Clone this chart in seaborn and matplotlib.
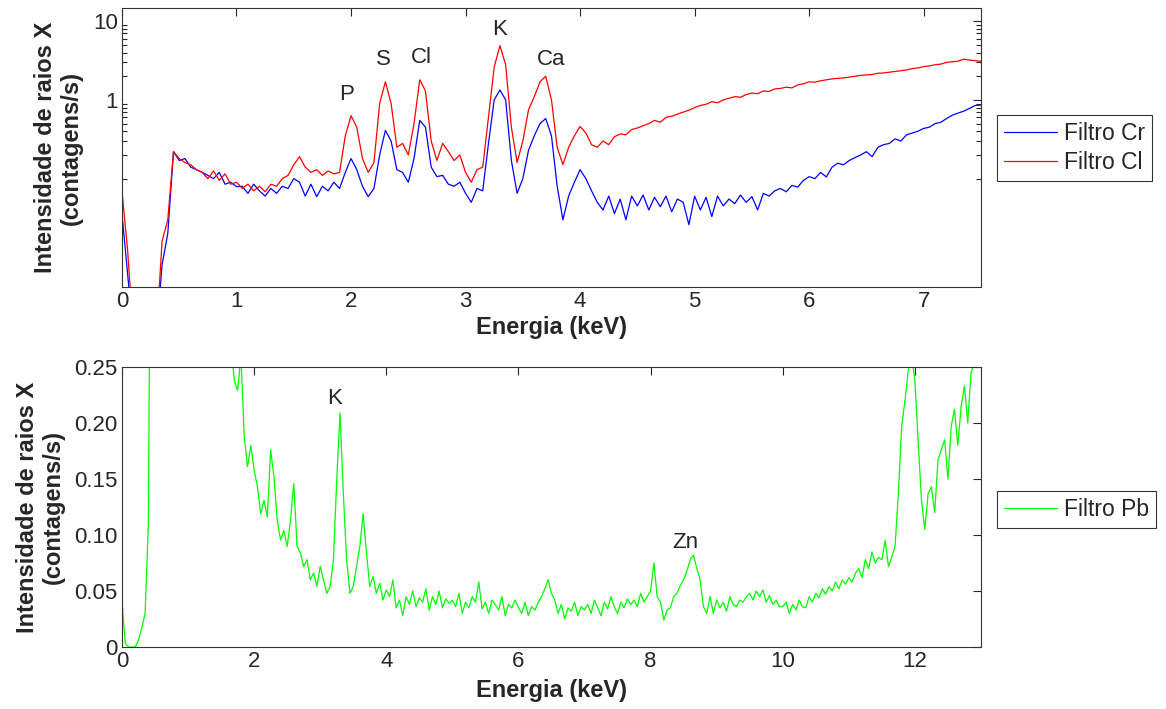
import numpy as np
import pandas as pd
import matplotlib
matplotlib.use('Agg')
import matplotlib.pyplot as plt
import seaborn as sns

# Energias (keV)
energia_top = np.round(np.arange(0, 7.5001, 0.05), 2)
energia_pb = np.round(np.arange(0, 13.0001, 0.05), 2)

# Filtro Cr (azul), de 0.5 em 0.5 keV por linha
filtro_cr = [
    0.036, 0.006, 0.001, 0.001, 0.001, 0.001, 0.001, 0.008, 0.02, 0.22,
    0.17, 0.18, 0.14, 0.13, 0.12, 0.11, 0.1, 0.12, 0.085, 0.09,
    0.079, 0.08, 0.065, 0.085, 0.07, 0.06, 0.075, 0.065, 0.08, 0.075,
    0.1, 0.09, 0.06, 0.085, 0.059, 0.08, 0.07, 0.09, 0.075, 0.12,
    0.18, 0.13, 0.08, 0.059, 0.075, 0.2, 0.41, 0.3, 0.13, 0.12,
    0.09, 0.18, 0.55, 0.45, 0.14, 0.106, 0.11, 0.085, 0.08, 0.09,
    0.065, 0.05, 0.075, 0.07, 0.28, 1.0, 1.34, 1.0, 0.17, 0.065,
    0.1, 0.23, 0.35, 0.5, 0.58, 0.35, 0.08, 0.03, 0.06, 0.09,
    0.13, 0.1, 0.07, 0.05, 0.04, 0.06, 0.036, 0.055, 0.03, 0.06,
    0.045, 0.062, 0.04, 0.058, 0.044, 0.06, 0.038, 0.055, 0.05, 0.026,
    0.06, 0.04, 0.058, 0.033, 0.06, 0.045, 0.055, 0.048, 0.062, 0.05,
    0.059, 0.04, 0.065, 0.06, 0.07, 0.075, 0.068, 0.082, 0.078, 0.095,
    0.106, 0.1, 0.12, 0.105, 0.14, 0.157, 0.15, 0.17, 0.185, 0.2,
    0.22, 0.19, 0.25, 0.27, 0.28, 0.32, 0.3, 0.36, 0.38, 0.4,
    0.435, 0.45, 0.5, 0.52, 0.58, 0.64, 0.68, 0.72, 0.78, 0.85,
    0.86,
]

# Filtro Cl (vermelho)
filtro_cl = [
    0.07, 0.012, 0.001, 0.001, 0.001, 0.001, 0.001, 0.016, 0.03, 0.22,
    0.18, 0.16, 0.15, 0.13, 0.12, 0.10, 0.125, 0.095, 0.115, 0.085,
    0.09, 0.075, 0.085, 0.07, 0.08, 0.068, 0.085, 0.08, 0.10, 0.11,
    0.15, 0.19, 0.14, 0.12, 0.13, 0.11, 0.125, 0.115, 0.12, 0.35,
    0.63, 0.45, 0.18, 0.12, 0.16, 0.9, 1.7, 0.9, 0.25, 0.28,
    0.2, 0.5, 1.8, 1.3, 0.3, 0.17, 0.28, 0.22, 0.17, 0.2,
    0.12, 0.09, 0.13, 0.14, 0.6, 2.6, 4.9, 2.8, 0.45, 0.16,
    0.3, 0.75, 1.1, 1.7, 2.0, 1.0, 0.25, 0.15, 0.25, 0.35,
    0.46, 0.38, 0.27, 0.25, 0.3, 0.27, 0.34, 0.37, 0.36, 0.42,
    0.44, 0.47, 0.5, 0.55, 0.52, 0.6, 0.62, 0.66, 0.7, 0.74,
    0.8, 0.85, 0.88, 0.95, 0.92, 1.0, 1.05, 1.1, 1.08, 1.17,
    1.22, 1.2, 1.3, 1.28, 1.38, 1.4, 1.45, 1.42, 1.55, 1.6,
    1.7, 1.68, 1.75, 1.8, 1.85, 1.88, 1.9, 1.95, 2.0, 2.05,
    2.08, 2.1, 2.18, 2.2, 2.25, 2.3, 2.35, 2.4, 2.5, 2.55,
    2.65, 2.7, 2.8, 2.85, 3.0, 3.05, 3.1, 3.3, 3.2, 3.15,
    3.1,
]

# Filtro Pb (verde), 1 keV por linha
filtro_pb = [
    0.042, 0.003, 0.0, 0.0, 0.0, 0.006, 0.017, 0.03, 0.11, 0.6, 0.6, 0.6, 0.6, 0.6, 0.6, 0.6, 0.6, 0.6, 0.6, 0.6,
    0.6, 0.6, 0.6, 0.6, 0.6, 0.6, 0.6, 0.6, 0.6, 0.6, 0.6, 0.6, 0.6, 0.27, 0.238, 0.229, 0.26, 0.188, 0.161, 0.18,
    0.158, 0.143, 0.119, 0.131, 0.116, 0.176, 0.152, 0.113, 0.0955, 0.104, 0.0896, 0.113, 0.146, 0.09, 0.084, 0.072, 0.078, 0.06, 0.066, 0.054,
    0.072, 0.06, 0.048, 0.054, 0.078, 0.149, 0.209, 0.137, 0.078, 0.048, 0.054, 0.072, 0.09, 0.119, 0.084, 0.054, 0.063, 0.048, 0.057, 0.042,
    0.051, 0.045, 0.06, 0.035, 0.042, 0.028, 0.045, 0.038, 0.05, 0.036, 0.044, 0.04, 0.052, 0.033, 0.045, 0.038, 0.05, 0.035, 0.043, 0.039,
    0.042, 0.036, 0.048, 0.03, 0.04, 0.035, 0.045, 0.04, 0.058, 0.034, 0.04, 0.03, 0.042, 0.038, 0.033, 0.045, 0.028, 0.038, 0.035, 0.042,
    0.035, 0.03, 0.04, 0.028, 0.036, 0.033, 0.04, 0.045, 0.052, 0.06, 0.048, 0.042, 0.03, 0.038, 0.025, 0.035, 0.032, 0.04, 0.028, 0.036,
    0.033, 0.038, 0.03, 0.042, 0.035, 0.028, 0.04, 0.034, 0.045, 0.036, 0.03, 0.04, 0.035, 0.043, 0.038, 0.042, 0.036, 0.048, 0.04, 0.045,
    0.05, 0.075, 0.045, 0.04, 0.024, 0.033, 0.035, 0.045, 0.048, 0.055, 0.06, 0.068, 0.078, 0.082, 0.07, 0.06, 0.036, 0.03, 0.045, 0.03,
    0.042, 0.035, 0.04, 0.032, 0.045, 0.038, 0.036, 0.042, 0.04, 0.045, 0.048, 0.042, 0.05, 0.045, 0.051, 0.04, 0.046, 0.038, 0.042, 0.036,
    0.036, 0.04, 0.03, 0.038, 0.033, 0.042, 0.036, 0.035, 0.045, 0.04, 0.048, 0.044, 0.052, 0.047, 0.054, 0.05, 0.058, 0.052, 0.06, 0.056,
    0.062, 0.058, 0.066, 0.07, 0.062, 0.078, 0.07, 0.085, 0.075, 0.08, 0.078, 0.095, 0.072, 0.08, 0.09, 0.137, 0.197, 0.22, 0.247, 0.26,
    0.238, 0.183, 0.131, 0.105, 0.137, 0.143, 0.12, 0.167, 0.176, 0.185, 0.15, 0.197, 0.212, 0.18, 0.215, 0.233, 0.2, 0.245, 0.254, 0.27,
    0.28,
]

# Rótulos dos picos
picos_top = ['P', 'S', 'Cl', 'K', 'Ca']
picos_top_x = [1.96, 2.28, 2.61, 3.30, 3.75]
picos_top_y = [1.16, 3.26, 3.45, 7.9, 3.26]
picos_pb = ['K', 'Zn']
picos_pb_x = [3.21, 8.53]
picos_pb_y = [0.222, 0.093]

sns.set_style('white')
plt.rcParams['font.family'] = ['Liberation Sans', 'DejaVu Sans']
plt.rcParams['axes.linewidth'] = 0.8
plt.rcParams['axes.edgecolor'] = 'black'

df_top = pd.DataFrame({'energia': energia_top, 'Filtro Cr': filtro_cr, 'Filtro Cl': filtro_cl})
df_pb = pd.DataFrame({'energia': energia_pb, 'Filtro Pb': filtro_pb})

fig = plt.figure(figsize=(11.66, 7.09), dpi=100)
ax1 = fig.add_axes([0.1046, 0.5952, 0.7367, 0.3935])
ax2 = fig.add_axes([0.1046, 0.0874, 0.7367, 0.395])

sns.lineplot(data=df_top, x='energia', y='Filtro Cr', color='#0000ff', lw=0.9,
             estimator=None, sort=False, label='Filtro Cr', ax=ax1)
sns.lineplot(data=df_top, x='energia', y='Filtro Cl', color='#ff0000', lw=0.9,
             estimator=None, sort=False, label='Filtro Cl', ax=ax1)
ax1.set_yscale('log')
ax1.set_xlim(0, 7.5)
ax1.set_ylim(0.0042, 14.7)
ax1.set_xticks(range(0, 8))
ax1.set_yticks([1, 10])
ax1.set_yticklabels(['1', '10'])
ax1.set_yticks([0.1, 0.2, 0.3, 0.4, 0.5, 0.6, 0.7, 0.8, 0.9, 2, 3, 4, 5, 6, 7, 8, 9], minor=True)
ax1.yaxis.set_minor_formatter(matplotlib.ticker.NullFormatter())
for t, x, y in zip(picos_top, picos_top_x, picos_top_y):
    ax1.text(x, y, t, ha='center', va='center', fontsize=16)

sns.lineplot(data=df_pb, x='energia', y='Filtro Pb', color='#00ff00', lw=0.9,
             estimator=None, sort=False, label='Filtro Pb', ax=ax2)
ax2.set_xlim(0, 13)
ax2.set_ylim(0, 0.25)
ax2.set_xticks(range(0, 14, 2))
ax2.set_yticks([0, 0.05, 0.10, 0.15, 0.20, 0.25])
ax2.set_yticklabels(['0', '0.05', '0.10', '0.15', '0.20', '0.25'])
for t, x, y in zip(picos_pb, picos_pb_x, picos_pb_y):
    ax2.text(x, y, t, ha='center', va='center', fontsize=16)

for ax in (ax1, ax2):
    ax.tick_params(axis='both', which='major', direction='in', length=6, width=0.8,
                   top=True, right=True, labelsize=16, pad=3)
    ax.tick_params(axis='y', which='minor', direction='in', length=3.5, width=0.8,
                   left=True, right=True)
    ax.set_ylabel('Intensidade de raios X\n(contagens/s)', fontsize=17,
                  fontweight='bold', labelpad=7, linespacing=1.15)
    for s in ax.spines.values():
        s.set_visible(True)
        s.set_color('#333333')

ax1.set_xlabel('Energia (keV)', fontsize=17, fontweight='bold', labelpad=3)
ax2.set_xlabel('Energia (keV)', fontsize=17, fontweight='bold', labelpad=5)

ax1.legend(loc='upper left', bbox_to_anchor=(1.019, 0.615), fontsize=16.5, frameon=True,
           fancybox=False, edgecolor='black', handlelength=2.3, borderpad=0.3,
           labelspacing=0.25, handletextpad=0.3, borderaxespad=0)
ax2.legend(loc='center left', bbox_to_anchor=(1.019, 0.49), fontsize=16.5, frameon=True,
           fancybox=False, edgecolor='black', handlelength=2.3, borderpad=0.3,
           handletextpad=0.3, borderaxespad=0)
for ax in (ax1, ax2):
    ax.get_legend().get_frame().set_linewidth(0.8)

fig.savefig('out.png', dpi=100)
